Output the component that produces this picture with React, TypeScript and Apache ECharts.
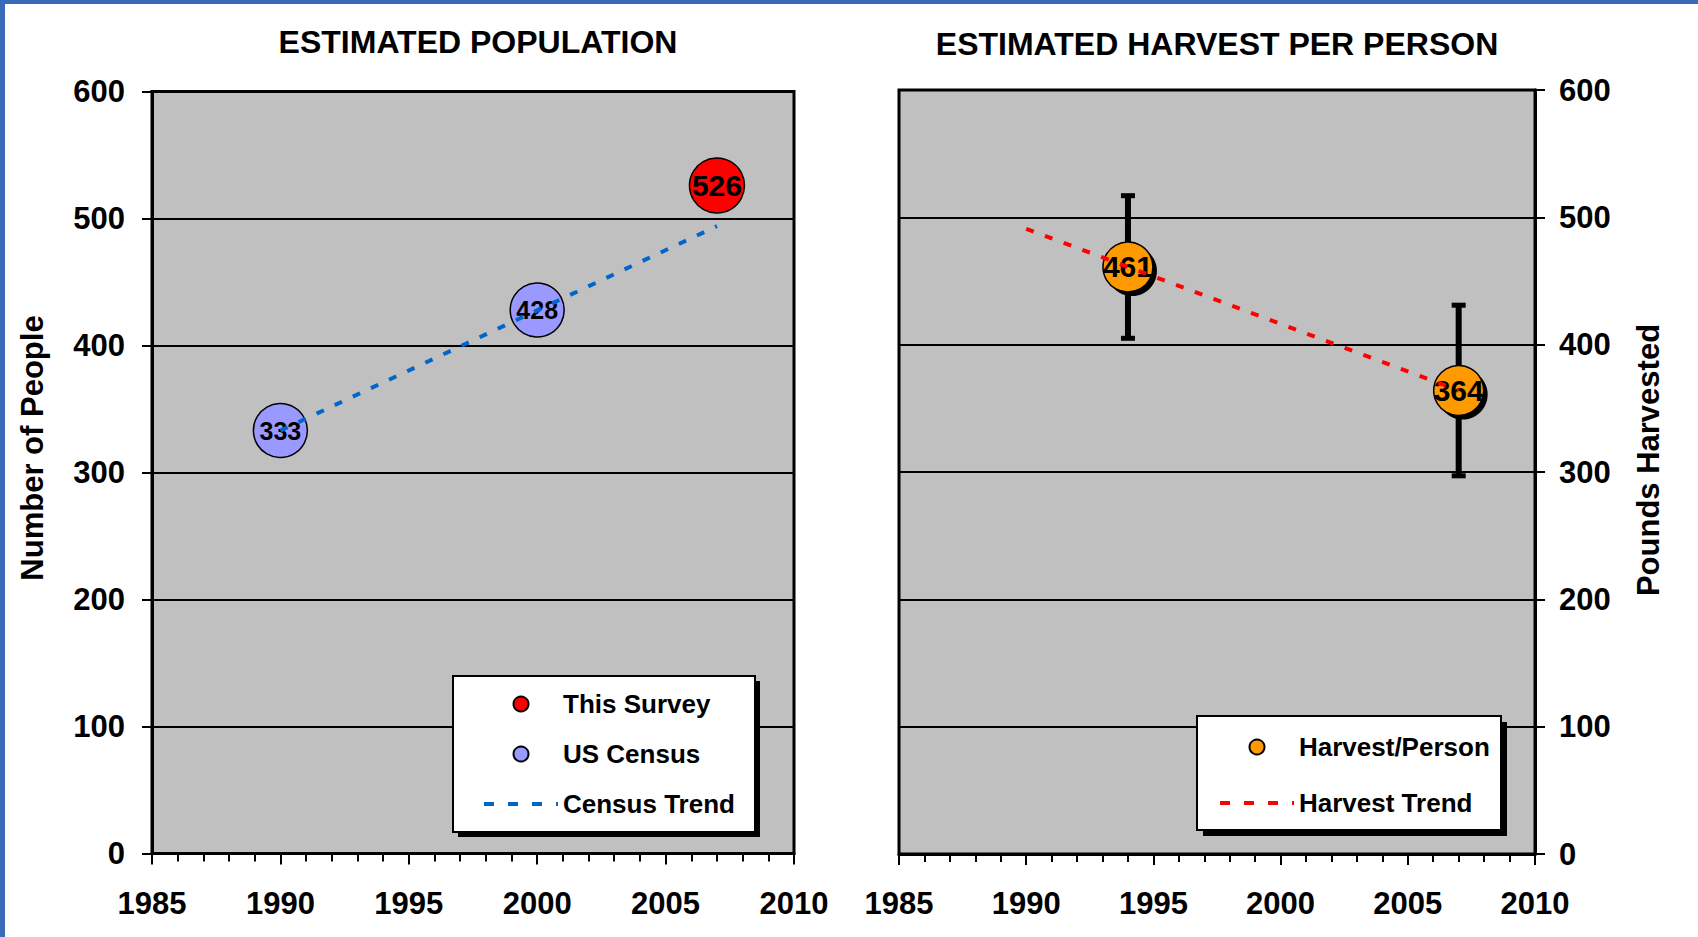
import React, { useEffect, useRef } from "react";
import * as echarts from "echarts";

// ---- data ----
const X_MIN = 1985;
const X_MAX = 2010;
const X_STEP = 5;
const Y_MIN = 0;
const Y_MAX = 600;
const Y_STEP = 100;

const SURVEY_YEARS = [2007];
const SURVEY_POP = [526];
const CENSUS_YEARS = [1990, 2000];
const CENSUS_POP = [333, 428];
const CENSUS_TREND_YEARS = [1990, 2007];
const CENSUS_TREND = [333, 494];

const HARVEST_YEARS = [1994, 2007];
const HARVEST = [461, 364];
const HARVEST_ERR = [56, 67];
const HARVEST_TREND_YEARS = [1990, 2007];
const HARVEST_TREND = [491, 364];

const TITLES = ["ESTIMATED POPULATION", "ESTIMATED HARVEST PER PERSON"];
const Y_NAMES = ["Number of People", "Pounds Harvested"];

const FONT = "'Liberation Sans', Arial, sans-serif";

const pairs = (xs: number[], ys: number[]) => xs.map((x, i) => [x, ys[i]]);

function xAxis(gridIndex: number) {
  return {
    type: "value",
    gridIndex,
    min: X_MIN,
    max: X_MAX,
    interval: X_STEP,
    axisLine: { show: true, lineStyle: { color: "#000", width: 3 } },
    axisTick: { show: true, length: 11, lineStyle: { color: "#000", width: 2 } },
    minorTick: { show: true, splitNumber: 5, length: 8, lineStyle: { color: "#000", width: 2 } },
    splitLine: { show: false },
    axisLabel: {
      color: "#000",
      fontSize: 31,
      fontWeight: "bold",
      fontFamily: FONT,
      margin: 34,
      formatter: (v: number) => String(v),
    },
  };
}

function yAxis(gridIndex: number, position: string, margin: number) {
  return {
    type: "value",
    gridIndex,
    position,
    min: Y_MIN,
    max: Y_MAX,
    interval: Y_STEP,
    axisLine: { show: true, lineStyle: { color: "#000", width: 3 } },
    axisTick: { show: true, length: 10, lineStyle: { color: "#000", width: 2 } },
    splitLine: { show: true, lineStyle: { color: "#000", width: 2 } },
    axisLabel: {
      color: "#000",
      fontSize: 31,
      fontWeight: "bold",
      fontFamily: FONT,
      margin,
    },
  };
}

const labelStyle = (size: number) => ({
  show: true,
  position: "inside",
  color: "#000",
  fontSize: size,
  fontWeight: "bold",
  fontFamily: FONT,
  formatter: (p: any) => String(p.value[1]),
});

const legendText = { color: "#000", fontSize: 26, fontWeight: "bold", fontFamily: FONT };
const trendLegendItem = (name: string) => ({
  name,
  itemStyle: { opacity: 0, borderWidth: 0 },
  lineStyle: { width: 4, type: [10, 14] },
});

const option: any = {
  animation: false,
  backgroundColor: "#fff",
  title: [
    {
      text: TITLES[0],
      left: 478,
      top: 26,
      textAlign: "center",
      padding: 0,
      textStyle: { color: "#000", fontSize: 32, fontWeight: "bold", fontFamily: FONT },
    },
    {
      text: TITLES[1],
      left: 1217,
      top: 28,
      textAlign: "center",
      padding: 0,
      textStyle: { color: "#000", fontSize: 32, fontWeight: "bold", fontFamily: FONT },
    },
  ],
  grid: [
    {
      left: 152,
      top: 91.5,
      width: 642,
      height: 762,
      show: true,
      backgroundColor: "#C0C0C0",
      borderColor: "#000",
      borderWidth: 3,
    },
    {
      left: 899,
      top: 90,
      width: 636,
      height: 764,
      show: true,
      backgroundColor: "#C0C0C0",
      borderColor: "#000",
      borderWidth: 3,
    },
  ],
  xAxis: [xAxis(0), xAxis(1)],
  yAxis: [yAxis(0, "left", 27), yAxis(1, "right", 24)],
  legend: [
    {
      data: ["This Survey", "US Census", trendLegendItem("Census Trend")],
      orient: "vertical",
      left: 482,
      top: 691,
      padding: 0,
      itemWidth: 74,
      itemHeight: 15,
      itemGap: 24,
      z: 60,
      textStyle: legendText,
    },
    {
      data: ["Harvest/Person", trendLegendItem("Harvest Trend")],
      orient: "vertical",
      left: 1218,
      top: 734,
      padding: 0,
      itemWidth: 74,
      itemHeight: 15,
      itemGap: 30,
      z: 60,
      textStyle: legendText,
    },
  ],
  graphic: [
    { type: "rect", z: 100, shape: { x: 0, y: 0, width: 1698, height: 4 }, style: { fill: "#3A6BB9" } },
    { type: "rect", z: 100, shape: { x: 0, y: 0, width: 5, height: 937 }, style: { fill: "#3A6BB9" } },
    {
      type: "text",
      z: 50,
      x: 32,
      y: 448,
      rotation: Math.PI / 2,
      style: {
        text: Y_NAMES[0],
        align: "center",
        verticalAlign: "middle",
        fill: "#000",
        font: `bold 31px ${FONT}`,
      },
    },
    {
      type: "text",
      z: 50,
      x: 1648,
      y: 460,
      rotation: Math.PI / 2,
      style: {
        text: Y_NAMES[1],
        align: "center",
        verticalAlign: "middle",
        fill: "#000",
        font: `bold 31px ${FONT}`,
      },
    },
    // legend boxes with shadows
    { type: "rect", z: 50, shape: { x: 458, y: 681, width: 302, height: 156 }, style: { fill: "#000" } },
    {
      type: "rect",
      z: 51,
      shape: { x: 453, y: 676, width: 302, height: 156 },
      style: { fill: "#fff", stroke: "#000", lineWidth: 2 },
    },
    { type: "rect", z: 50, shape: { x: 1203, y: 722, width: 304, height: 114 }, style: { fill: "#000" } },
    {
      type: "rect",
      z: 51,
      shape: { x: 1197, y: 716, width: 304, height: 114 },
      style: { fill: "#fff", stroke: "#000", lineWidth: 2 },
    },
  ],
  series: [
    {
      name: "US Census",
      type: "scatter",
      xAxisIndex: 0,
      yAxisIndex: 0,
      data: pairs(CENSUS_YEARS, CENSUS_POP),
      symbol: "circle",
      symbolSize: 54,
      z: 3,
      itemStyle: { color: "#9999FF", borderColor: "#000", borderWidth: 1.5, opacity: 1 },
      label: labelStyle(25),
    },
    {
      name: "This Survey",
      type: "scatter",
      xAxisIndex: 0,
      yAxisIndex: 0,
      data: pairs(SURVEY_YEARS, SURVEY_POP),
      symbol: "circle",
      symbolSize: 55,
      z: 3,
      itemStyle: { color: "#FF0000", borderColor: "#000", borderWidth: 1.5, opacity: 1 },
      label: labelStyle(30),
    },
    {
      name: "Census Trend",
      type: "line",
      xAxisIndex: 0,
      yAxisIndex: 0,
      data: pairs(CENSUS_TREND_YEARS, CENSUS_TREND),
      symbol: "none",
      z: 4,
      lineStyle: { color: "#0066CC", width: 4, type: [8, 12] },
      itemStyle: { color: "#0066CC" },
    },
    {
      name: "Error",
      type: "custom",
      xAxisIndex: 1,
      yAxisIndex: 1,
      z: 2,
      data: HARVEST_YEARS.map((x, i) => [x, HARVEST[i], HARVEST_ERR[i]]),
      renderItem: (params: any, api: any) => {
        const x = api.value(0);
        const y = api.value(1);
        const e = api.value(2);
        const top = api.coord([x, y + e]);
        const bot = api.coord([x, y - e]);
        return {
          type: "group",
          children: [
            {
              type: "line",
              shape: { x1: top[0], y1: top[1], x2: bot[0], y2: bot[1] },
              style: { stroke: "#000", lineWidth: 6 },
            },
            { type: "rect", shape: { x: top[0] - 7, y: top[1] - 2.5, width: 14, height: 5 }, style: { fill: "#000" } },
            { type: "rect", shape: { x: bot[0] - 7, y: bot[1] - 2.5, width: 14, height: 5 }, style: { fill: "#000" } },
          ],
        };
      },
    },
    {
      name: "Shadow",
      type: "scatter",
      xAxisIndex: 1,
      yAxisIndex: 1,
      silent: true,
      data: pairs(HARVEST_YEARS, HARVEST),
      symbol: "circle",
      symbolSize: 50,
      symbolOffset: [4, 4],
      z: 2,
      itemStyle: { color: "#000", opacity: 1 },
    },
    {
      name: "Harvest/Person",
      type: "scatter",
      xAxisIndex: 1,
      yAxisIndex: 1,
      data: pairs(HARVEST_YEARS, HARVEST),
      symbol: "circle",
      symbolSize: 50,
      z: 3,
      itemStyle: { color: "#FF9900", borderColor: "#000", borderWidth: 1.5, opacity: 1 },
      label: labelStyle(30),
    },
    {
      name: "Harvest Trend",
      type: "line",
      xAxisIndex: 1,
      yAxisIndex: 1,
      data: pairs(HARVEST_TREND_YEARS, HARVEST_TREND),
      symbol: "none",
      z: 4,
      lineStyle: { color: "#FF0000", width: 4, type: [8, 12] },
      itemStyle: { color: "#FF0000" },
    },
  ],
};

export default function App() {
  const ref = useRef<HTMLDivElement>(null);
  useEffect(() => {
    if (!ref.current) return;
    const chart = echarts.init(ref.current, null, { renderer: "svg" });
    chart.setOption(option);
    return () => chart.dispose();
  }, []);
  return (
    <div
      ref={ref}
      style={{ position: "fixed", left: 0, top: 0, width: 1698, height: 937, background: "#fff" }}
    />
  );
}
